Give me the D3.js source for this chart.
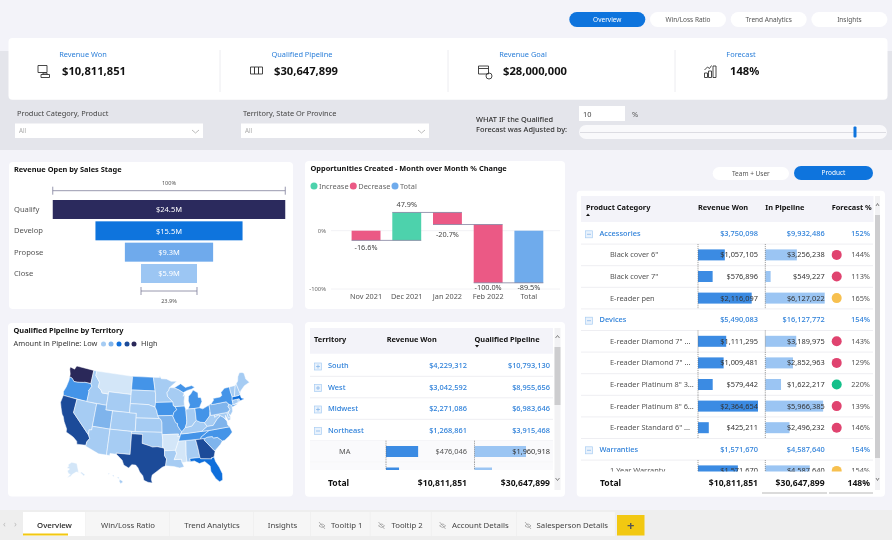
<!DOCTYPE html>
<html>
<head>
<meta charset="utf-8">
<script src="https://cdn.jsdelivr.net/npm/d3@7"></script>
<style>
  body { margin: 0; background: #f3f3f9; }
  svg { filter: blur(0.35px); }
  text { font-family: "Noto Sans", sans-serif; }
</style>
</head>
<body>
<div id="dashboard"></div>
<script>
// ---- data ----
const navTabs = ["Overview", "Win/Loss Ratio", "Trend Analytics", "Insights"];
const kpiLabels = ["Revenue Won", "Qualified Pipeline", "Revenue Goal", "Forecast"];
const kpiValues = ["$10,811,851", "$30,647,899", "$28,000,000", "148%"];

const funnelStages = ["Qualify", "Develop", "Propose", "Close"];
const funnelValues = [24.5, 15.5, 9.3, 5.9];
const funnelPercents = ["100%", "23.9%"];

const waterfallMonths = ["Nov 2021", "Dec 2021", "Jan 2022", "Feb 2022", "Total"];
const waterfallChange = [-16.6, 47.9, -20.7, -100.0, -89.5];

const territoryNames = ["South", "West", "Midwest", "Northeast", "MA", "CT"];
const territoryRevenue = [4229312, 3042592, 2271086, 1268861, 476046, 193181];
const territoryPipeline = [10793130, 8955656, 6983646, 3915468, 1960918, 666301];
const territoryIsGroup = [true, true, true, true, false, false];
const territoryOpen = [false, false, false, true, false, false];
const territoryTotals = ["Total", "$10,811,851", "$30,647,899"];

const productNames = ["Accessories", "Black cover 6\"", "Black cover 7\"", "E-reader pen", "Devices",
  "E-reader Diamond 7\" ...", "E-reader Diamond 7\" ...", "E-reader Platinum 8\" 3...",
  "E-reader Platinum 8\" 6...", "E-reader Standard 6\" ...", "Warranties", "1 Year Warranty"];
const productRevenue = [3750098, 1057105, 576896, 2116097, 5490083, 1111295, 1009481, 579442, 2364654, 425211, 1571670, 1571670];
const productPipeline = [9932486, 3256238, 549227, 6127022, 16127772, 3189975, 2852963, 1622217, 5966385, 2496232, 4587640, 4587640];
const productForecast = [152, 144, 113, 165, 154, 143, 129, 220, 139, 146, 154, 154];
const productIsGroup = [true, false, false, false, true, false, false, false, false, false, true, false];
const productTotals = ["Total", "$10,811,851", "$30,647,899", "148%"];

const bottomTabs = ["Overview", "Win/Loss Ratio", "Trend Analytics", "Insights", "Tooltip 1", "Tooltip 2", "Account Details", "Salesperson Details"];
const bottomTabHidden = [false, false, false, false, true, true, true, true];

// estimated pipeline per state, $M
const statePipeline = {
  WA: 3.9, TX: 3.1, CA: 3.0, GA: 2.8, FL: 2.1, MA: 1.96, OR: 1.3, ND: 1.0, IA: 1.2, IL: 1.3, OH: 1.25, TN: 1.3, NC: 1.2, NY: 1.0,
  MI: 0.95, UT: 0.7, MO: 0.7, SC: 0.75, PA: 0.65, VA: 0.65, WI: 0.5, NV: 0.45, ID: 0.5, WY: 0.45, AZ: 0.45, CO: 0.45, NM: 0.45,
  SD: 0.5, NE: 0.45, KS: 0.45, OK: 0.45, MN: 0.45, LA: 0.45, IN: 0.45, KY: 0.5, AL: 0.45, WV: 0.4, MD: 0.35, DE: 0.3, NJ: 0.4,
  CT: 0.35, RI: 0.3, VT: 0.4, NH: 0.4, ME: 0.45, HI: 0.4, MT: 0.2, AR: 0.15, MS: 0.2, AK: 0.1
};
const pipelineBreaks = [0.25, 0.6, 0.9, 1.5, 2.5, 3.5];
const pipelineColors = ["#d3e6f8", "#a6ccf3", "#7fb4ec", "#4494e8", "#0f6fdb", "#1c4b99", "#2a2859"];

// simplified state outlines, lon/lat
const stateOutlines = {
  WA: [[[-124.7,48.4],[-123.2,48.2],[-122.8,49],[-117,49],[-117,46.4],[-117,46],[-118.9,46],[-119.3,45.9],[-120.5,45.7],[-121.2,45.6],[-122.3,45.55],[-122.8,45.9],[-123.2,46.15],[-124,46.25],[-124.1,46.9],[-124.7,47.9]]],
  OR: [[[-124,46.25],[-123.2,46.15],[-122.8,45.9],[-122.3,45.55],[-121.2,45.6],[-120.5,45.7],[-119.3,45.9],[-118.9,46],[-117,46],[-116.9,45.9],[-116.5,45.5],[-117.2,44.4],[-117,44.2],[-117,42],[-124.2,42],[-124.5,42.8],[-124.1,44],[-123.9,45.5]]],
  CA: [[[-124.2,42],[-120,42],[-120,39],[-114.6,35],[-114.1,34.3],[-114.7,33.4],[-114.7,32.7],[-117.1,32.5],[-117.3,33.1],[-118.4,33.8],[-119.2,34.1],[-120.6,34.5],[-120.7,35.2],[-121.9,36.6],[-122.5,37.6],[-123,38],[-123.8,39.3],[-124.4,40.4]]],
  NV: [[[-120,42],[-114,42],[-114,36.2],[-114.7,36.1],[-114.6,35],[-120,39]]],
  ID: [[[-117,49],[-116,49],[-116,48],[-114.4,46.7],[-114.5,45.6],[-113.5,45.1],[-113,44.5],[-111.05,44.5],[-111.05,42],[-117,42],[-117,44.2],[-117.2,44.4],[-116.5,45.5],[-116.9,45.9],[-117,46]]],
  MT: [[[-116,49],[-104.05,49],[-104.05,45],[-111.05,45],[-111.05,44.5],[-113,44.5],[-113.5,45.1],[-114.5,45.6],[-114.4,46.7],[-116,48]]],
  WY: [[[-111.05,45],[-104.05,45],[-104.05,41],[-111.05,41]]],
  UT: [[[-114,42],[-111.05,42],[-111.05,41],[-109.05,41],[-109.05,37],[-114,37]]],
  AZ: [[[-114,37],[-109.05,37],[-109.05,31.33],[-111.1,31.33],[-114.8,32.5],[-114.7,32.7],[-114.7,33.4],[-114.1,34.3],[-114.6,35],[-114.7,36.1],[-114,36.2]]],
  CO: [[[-109.05,41],[-102.05,41],[-102.05,37],[-109.05,37]]],
  NM: [[[-109.05,37],[-103,37],[-103,32],[-106.6,32],[-106.5,31.75],[-108.2,31.78],[-108.2,31.33],[-109.05,31.33]]],
  ND: [[[-104.05,49],[-97.2,49],[-96.6,46],[-104.05,46]]],
  SD: [[[-104.05,46],[-96.6,46],[-96.45,45.3],[-96.45,43.5],[-96.6,42.5],[-97.9,42.8],[-98.5,43],[-104.05,43]]],
  NE: [[[-104.05,43],[-98.5,43],[-97.9,42.8],[-96.6,42.5],[-96.1,41.7],[-95.8,40.6],[-95.3,40],[-102.05,40],[-102.05,41],[-104.05,41]]],
  KS: [[[-102.05,40],[-95.3,40],[-94.9,39.8],[-94.6,39.1],[-94.6,37],[-102.05,37]]],
  OK: [[[-103,37],[-94.6,37],[-94.45,35.4],[-94.5,33.65],[-96,33.9],[-97.2,33.8],[-98.1,34.1],[-100,34.55],[-100,36.5],[-103,36.5]]],
  TX: [[[-106.6,32],[-103,32],[-103,36.5],[-100,36.5],[-100,34.55],[-98.1,34.1],[-97.2,33.8],[-96,33.9],[-94.5,33.65],[-94.05,33.55],[-94.05,33],[-94.05,31.9],[-93.55,31.2],[-93.85,29.7],[-94.7,29.4],[-95.9,28.6],[-97.2,27.7],[-97.4,26.8],[-97.15,25.95],[-98.2,26.1],[-99.2,26.5],[-99.5,27.5],[-100.3,28.3],[-100.8,29.2],[-101.4,29.77],[-102.4,29.8],[-103.1,29],[-104.4,29.6],[-104.9,30.6],[-106.5,31.75]]],
  MN: [[[-97.2,49],[-95.15,49],[-95.15,49.4],[-94.6,48.7],[-92.9,48.6],[-91.4,48.05],[-89.6,48],[-92,46.7],[-92.3,46.1],[-92.9,45.6],[-92.75,44.75],[-91.2,43.5],[-96.45,43.5],[-96.45,45.3],[-96.6,46]]],
  IA: [[[-96.45,43.5],[-91.2,43.5],[-91.1,42.7],[-90.65,42.5],[-90.15,41.8],[-91.1,41.2],[-91.4,40.4],[-91.7,40.6],[-95.8,40.6],[-96.1,41.7],[-96.6,42.5]]],
  MO: [[[-95.8,40.6],[-91.7,40.6],[-91.4,40.4],[-90.7,39],[-90.2,38.8],[-90.2,38.3],[-89.5,37.3],[-89.1,37],[-89.5,36.5],[-89.7,36],[-90.35,36],[-90.1,36.5],[-94.6,36.5],[-94.6,37],[-94.6,39.1],[-94.9,39.8],[-95.3,40]]],
  AR: [[[-94.6,36.5],[-90.1,36.5],[-90.35,36],[-89.7,36],[-90.2,35],[-91.15,33],[-94.05,33],[-94.05,33.55],[-94.5,33.65],[-94.45,35.4]]],
  LA: [[[-94.05,33],[-91.15,33],[-90.9,32.3],[-91.6,31],[-89.75,31],[-89.6,30.2],[-89.2,29.3],[-90.3,29.1],[-91.8,29.5],[-93.85,29.7],[-93.55,31.2],[-94.05,31.9]]],
  MS: [[[-90.2,35],[-88.2,35],[-88.45,31.9],[-88.4,30.35],[-89.6,30.2],[-89.75,31],[-91.6,31],[-90.9,32.3],[-91.15,33]]],
  AL: [[[-88.2,35],[-85.6,35],[-85.2,32.85],[-85,31],[-87.6,31],[-87.5,30.3],[-88.4,30.35],[-88.45,31.9]]],
  GA: [[[-85.6,35],[-83.1,35],[-83.35,34.7],[-81.1,32.1],[-80.85,32.05],[-81.4,30.7],[-82.2,30.55],[-82.05,30.36],[-84.86,30.7],[-85,31],[-85.2,32.85]]],
  FL: [[[-87.6,31],[-85,31],[-84.86,30.7],[-82.05,30.36],[-82.2,30.55],[-81.4,30.7],[-81.2,29.7],[-80.5,28.3],[-80,26.8],[-80.2,25.4],[-81,25.15],[-81.8,26],[-82.7,27.7],[-82.7,28.9],[-83.9,30],[-85.3,29.7],[-86.5,30.4],[-87.5,30.3]]],
  SC: [[[-83.35,34.7],[-83.1,35],[-82.3,35.2],[-81,35.15],[-80.8,34.8],[-79.7,34.8],[-78.55,33.85],[-79.2,33.2],[-80.85,32.05],[-81.1,32.1]]],
  NC: [[[-84.3,35],[-84.05,35.4],[-81.7,36.55],[-75.9,36.55],[-75.5,35.3],[-76.5,34.6],[-77.9,33.9],[-78.55,33.85],[-79.7,34.8],[-80.8,34.8],[-81,35.15],[-82.3,35.2],[-83.1,35]]],
  TN: [[[-90.2,35],[-89.7,36],[-89.5,36.5],[-88,36.5],[-83.7,36.6],[-81.7,36.55],[-84.05,35.4],[-84.3,35],[-85.6,35],[-88.2,35]]],
  KY: [[[-89.5,36.5],[-89.1,37],[-88.1,37.8],[-87,37.9],[-86.2,38],[-85.4,38.7],[-84.8,39.1],[-83.7,38.6],[-82.6,38.4],[-82,37.5],[-81.95,37.5],[-83.7,36.6],[-88,36.5]]],
  IL: [[[-90.65,42.5],[-87.8,42.5],[-87.5,41.7],[-87.5,39.3],[-87.6,38.7],[-88.1,37.8],[-89.1,37],[-89.5,37.3],[-90.2,38.3],[-90.2,38.8],[-90.7,39],[-91.4,40.4],[-91.1,41.2],[-90.15,41.8]]],
  WI: [[[-92.9,45.6],[-92.3,46.1],[-92,46.7],[-90.5,46.6],[-89.1,46.1],[-87.8,45.4],[-87.6,45.1],[-88,44.6],[-87.4,44.9],[-87.8,43.5],[-87.8,42.5],[-90.65,42.5],[-91.1,42.7],[-91.2,43.5],[-92.75,44.75]]],
  MI: [[[-86.8,41.76],[-84.8,41.72],[-83.45,41.73],[-83.1,42.2],[-82.45,43],[-82.6,43.9],[-83.4,44],[-83.3,45],[-84.7,45.75],[-85.5,45],[-86.3,44.5],[-86.5,43.5],[-86.2,42.6]],
       [[-90.5,46.6],[-89.1,46.1],[-87.8,45.4],[-86.5,45.8],[-85,46],[-84.1,46.3],[-85,46.75],[-87,46.5],[-88.4,47.4]]],
  IN: [[[-87.5,41.7],[-86.8,41.76],[-84.8,41.72],[-84.8,39.1],[-85.4,38.7],[-86.2,38],[-87,37.9],[-88.1,37.8],[-87.6,38.7],[-87.5,39.3]]],
  OH: [[[-84.8,41.72],[-83.45,41.73],[-82.5,41.4],[-80.52,42],[-80.52,40.6],[-80.8,39.7],[-81.7,39],[-82.2,38.6],[-82.6,38.4],[-83.7,38.6],[-84.8,39.1]]],
  WV: [[[-82.6,38.4],[-82.2,38.6],[-81.7,39],[-80.8,39.7],[-80.52,40.6],[-80.52,39.72],[-79.48,39.72],[-79.48,39.2],[-78.4,39.6],[-77.75,39.3],[-78.9,38.7],[-80.3,37.5],[-81.95,37.5],[-82,37.5]]],
  VA: [[[-83.7,36.6],[-81.95,37.5],[-80.3,37.5],[-78.9,38.7],[-77.75,39.3],[-77.05,38.85],[-76.3,37.9],[-76.3,37],[-75.9,36.55],[-81.7,36.55]]],
  MD: [[[-79.48,39.72],[-75.8,39.72],[-75.7,38.46],[-75.05,38.45],[-75.3,38],[-75.9,37.95],[-76.4,39.2],[-76.5,38.3],[-77.05,38.85],[-77.75,39.3],[-78.4,39.6],[-79.48,39.2]]],
  DE: [[[-75.8,39.72],[-75.4,39.8],[-75.05,38.45],[-75.7,38.46]]],
  PA: [[[-80.52,42],[-79.76,42.25],[-79.76,42],[-75.35,42],[-74.7,41.35],[-75.1,40.9],[-74.75,40.2],[-75.4,39.8],[-75.8,39.72],[-80.52,39.72],[-80.52,40.6]]],
  NJ: [[[-74.7,41.35],[-73.9,41],[-74,40.45],[-74.1,39.7],[-74.9,38.95],[-75.5,39.5],[-74.75,40.2],[-75.1,40.9]]],
  NY: [[[-79.76,42.25],[-78.9,42.9],[-79.05,43.27],[-76.8,43.3],[-76.2,43.55],[-76.3,44.2],[-75,44.95],[-73.35,45],[-73.4,44],[-73.25,42.75],[-73.5,42.05],[-73.5,41.3],[-73.65,41],[-72,41.05],[-73.9,40.6],[-73.9,41],[-74.7,41.35],[-75.35,42],[-79.76,42]]],
  CT: [[[-73.5,42.05],[-71.8,42],[-71.85,41.3],[-73.65,41],[-73.5,41.3]]],
  RI: [[[-71.8,42],[-71.38,42],[-71.2,41.5],[-71.85,41.3]]],
  MA: [[[-73.5,42.05],[-73.25,42.75],[-71.3,42.7],[-70.8,42.85],[-70.7,42],[-70,41.75],[-70,41.65],[-71.2,41.5],[-71.38,42],[-71.8,42]]],
  VT: [[[-73.35,45],[-71.5,45],[-72.45,43],[-72.45,42.73],[-73.25,42.75],[-73.4,44]]],
  NH: [[[-71.5,45],[-71.1,45.3],[-70.7,43.1],[-70.8,42.85],[-71.3,42.7],[-72.45,42.73],[-72.45,43]]],
  ME: [[[-71.1,45.3],[-70.4,45.8],[-70,46.7],[-69.2,47.45],[-68.3,47.35],[-67.8,47.05],[-67.8,45.7],[-67,44.8],[-68.8,44.4],[-70.2,43.6],[-70.7,43.1]]],
  AK: [[[-168,65.6],[-164,66.5],[-166.5,68.3],[-156.5,71.3],[-141,69.6],[-141,60.3],[-137.5,58.9],[-135,59.6],[-130,55.9],[-133,55],[-136,58],[-140,59.7],[-146,60.8],[-151.5,59.3],[-153.5,59],[-158,56.3],[-164,54.5],[-158.5,58.5],[-162,59],[-165.5,61.5],[-161,64],[-166,64.5]]],
  HI: [[[-155.9,20.25],[-155.1,19.9],[-154.8,19.5],[-155.6,18.95],[-156.05,19.7]],
       [[-156.7,20.95],[-156.3,20.95],[-156,20.7],[-156.4,20.6]],
       [[-158.25,21.55],[-157.95,21.7],[-157.7,21.3],[-158.1,21.3]],
       [[-159.75,22.1],[-159.4,22.2],[-159.3,21.95],[-159.6,21.9]]]
};

// ---- page ----
const blue = "#0e74dd", linkBlue = "#2b7fd9", ink = "#111", grey = "#555";
const font = { small: 6.5, body: 7.4 };

let svg = d3.select("#dashboard").append("svg")
  .attr("width", 892).attr("height", 540)
  .style("display", "block");

function card(x, y, w, h, fill = "#fff", r = 4) {
  return svg.append("rect").attr("x", x).attr("y", y).attr("width", w).attr("height", h)
    .attr("rx", r).attr("fill", fill);
}
function label(parent, str, x, y, size, color = ink, weight = 400, anchor = "start") {
  return parent.append("text").text(str).attr("x", x).attr("y", y)
    .attr("font-size", size).attr("fill", color).attr("font-weight", weight).attr("text-anchor", anchor);
}
function pill(str, x, y, w, h, active) {
  card(x, y, w, h, active ? blue : "#fff", h / 2);
  label(svg, str, x + w / 2, y + h / 2 + 2.3, font.small, active ? "#fff" : "#555", 400, "middle");
}
const money = d3.format("$,");

card(0, 0, 892, 540, "#f3f3f9", 0);
card(0, 51, 892, 99, "#e4e5eb", 0);

// nav pills
navTabs.forEach((t, i) => pill(t, 569.3 + i * 80.7, 12, 76, 15, i === 0));

// kpi strip
card(8.5, 38, 879, 61.7);
const kpiLabelX = [83, 302, 523, 741];
const kpiValueX = [62, 274, 503, 730];
const kpiIconX = [37, 250, 478, 704];
kpiLabels.forEach((t, i) => {
  label(svg, t, kpiLabelX[i], 57, font.body, linkBlue, 400, "middle");
  label(svg, kpiValues[i], kpiValueX[i], 75, 11.2, "#111", 700);
  if (i > 0) {
    svg.append("line").attr("x1", [0, 220, 448, 675][i]).attr("x2", [0, 220, 448, 675][i])
      .attr("y1", 50).attr("y2", 92).attr("stroke", "#ececf0").attr("stroke-width", 1);
  }
});
// small kpi icons
const iconStyle = g => g.attr("fill", "none").attr("stroke", "#333").attr("stroke-width", 0.9);
const icons = svg.append("g").call(iconStyle);
const ic = i => icons.append("g").attr("transform", `translate(${kpiIconX[i]},65)`);
ic(0).append("path").attr("d", "M1 0.5h9v7h-9z M4 9.5h8.5v3h-8.5z M6 9.5v-1.5h4v1.5");
ic(1).append("path").attr("d", "M0.5 2h4v7h-4z M4.5 2h4v7h-4z M8.5 2h4v7h-4z");
ic(2).append("path").attr("d", "M0.5 1h10v8h-10z M0.5 3.5h10 M11 11m-3 0a3 3 0 1 0 6 0a3 3 0 1 0 -6 0");
ic(3).append("path").attr("d", "M0.5 8h3v4.5h-3z M4.5 6h3v6.5h-3z M9 1h3v11.5h-3z M0.5 5l3 -3l2 1.5l2 -3");

// slicers
const slicerLabels = ["Product Category, Product", "Territory, State Or Province"];
slicerLabels.forEach((t, i) => {
  const x = i === 0 ? 15 : 241;
  label(svg, t, x + 2, 116, font.body, "#444");
  card(x, 123.5, 188, 14.5, "#fff", 0);
  label(svg, "All", x + 4, 133, 6.2, "#aaa");
  svg.append("path").attr("d", `M${x + 177} 130l3.5 3l3.5 -3`).attr("fill", "none").attr("stroke", "#aaa").attr("stroke-width", 0.8);
});
label(svg, "WHAT IF the Qualified", 476, 121.5, font.body, "#333", 500);
label(svg, "Forecast was Adjusted by:", 476, 132, font.body, "#333", 500);
card(579, 106, 46, 15, "#fff", 0);
label(svg, "10", 583, 116.5, font.body, "#444");
label(svg, "%", 632, 117, font.body, "#555");
card(579, 125, 308, 14, "#f9f9fb", 7);
svg.append("line").attr("x1", 580).attr("x2", 886).attr("y1", 132.5).attr("y2", 132.5).attr("stroke", "#dcdce2");
card(853.5, 126.5, 3, 11, blue, 1);

// ---- funnel ----
card(9, 162, 284, 147);
label(svg, "Revenue Open by Sales Stage", 14, 172, font.body, ink, 700);
let funnelX = d3.scaleLinear().domain([0, funnelValues[0]]).range([0, 232.5]);
let funnelY = d3.scaleBand().domain(funnelStages).range([200, 283]).paddingInner(0.11);
const funnelColor = d3.scaleOrdinal().domain(funnelStages).range(["#2b2a5d", "#0e74dd", "#6faaec", "#9cc6f3"]);
const funnelMid = 169;
let funnel = svg.append("g");
funnel.selectAll("rect").data(funnelStages).enter().append("rect")
  .attr("x", (d, i) => funnelMid - funnelX(funnelValues[i]) / 2)
  .attr("y", d => funnelY(d))
  .attr("width", (d, i) => funnelX(funnelValues[i]))
  .attr("height", funnelY.bandwidth())
  .attr("fill", d => funnelColor(d));
funnel.selectAll("text.val").data(funnelStages).enter().append("text").attr("class", "val")
  .text((d, i) => `$${funnelValues[i].toFixed(1)}M`)
  .attr("x", funnelMid).attr("y", d => funnelY(d) + funnelY.bandwidth() / 2 + 2.8)
  .attr("text-anchor", "middle").attr("font-size", 7.5).attr("fill", "#fff");
funnel.selectAll("text.stage").data(funnelStages).enter().append("text").attr("class", "stage")
  .text(d => d).attr("x", 14).attr("y", d => funnelY(d) + funnelY.bandwidth() / 2 + 2.5)
  .attr("font-size", 7.6).attr("fill", "#555");
function bracket(value, y, textY, str) {
  const w = funnelX(value), x0 = funnelMid - w / 2, x1 = funnelMid + w / 2;
  funnel.append("path").attr("d", `M${x0} ${y - 4}v8M${x0} ${y}H${x1}M${x1} ${y - 4}v8`)
    .attr("fill", "none").attr("stroke", "#7d7d9a").attr("stroke-width", 0.8);
  label(funnel, str, funnelMid, textY, 5.6, "#555", 400, "middle");
}
bracket(funnelValues[0], 190.7, 184.5, funnelPercents[0]);
bracket(funnelValues[3], 291, 302.5, funnelPercents[1]);

// ---- waterfall ----
card(305, 161, 260, 148);
label(svg, "Opportunities Created - Month over Month % Change", 310.5, 171, font.body, ink, 700);
const waterfallKeys = ["Increase", "Decrease", "Total"];
const waterfallColor = d3.scaleOrdinal().domain(waterfallKeys).range(["#4dd2ac", "#eb5985", "#6fabec"]);
const legendX = [314, 353.3, 395];
waterfallKeys.forEach((k, i) => {
  svg.append("circle").attr("cx", legendX[i]).attr("cy", 186).attr("r", 3.5).attr("fill", waterfallColor(k));
  label(svg, k, legendX[i] + 5, 189, font.body, "#666");
});
let wfX = d3.scaleBand().domain(waterfallMonths).range([345.7, 549.2]).paddingInner(0.29).paddingOuter(0.145);
let wfY = d3.scaleLinear().domain([-100, 0]).range([289, 230.7]);
let running = 0;
const wfSteps = waterfallMonths.map((m, i) => {
  const isTotal = m === "Total";
  const start = isTotal ? 0 : running;
  const end = isTotal ? waterfallChange[i] : running + waterfallChange[i];
  running = end;
  return { m, start, end, key: isTotal ? "Total" : (waterfallChange[i] >= 0 ? "Increase" : "Decrease"), value: waterfallChange[i] };
});
let wf = svg.append("g");
let wfYAxis = wf.append("g").attr("transform", "translate(329,0)")
  .call(d3.axisLeft(wfY).tickValues([-100, 0]).tickFormat(d => d + "%").tickSize(0));
wfYAxis.select(".domain").remove();
wfYAxis.selectAll("text").attr("font-size", 5.8).attr("fill", "#666").style("font-family", "'Noto Sans'");
wf.selectAll("line.grid").data([-100, 0]).enter().append("line").attr("class", "grid")
  .attr("x1", 331).attr("x2", 560).attr("y1", d => wfY(d)).attr("y2", d => wfY(d)).attr("stroke", "#f2f2f5");
wf.selectAll("rect").data(wfSteps).enter().append("rect")
  .attr("x", d => wfX(d.m))
  .attr("y", d => wfY(Math.max(d.start, d.end)))
  .attr("width", wfX.bandwidth())
  .attr("height", d => Math.abs(wfY(d.start) - wfY(d.end)))
  .attr("fill", d => waterfallColor(d.key));
wf.selectAll("line.link").data(wfSteps.slice(0, -1)).enter().append("line").attr("class", "link")
  .attr("x1", d => wfX(d.m)).attr("x2", (d, i) => wfX(wfSteps[i + 1].m) + wfX.bandwidth())
  .attr("y1", d => wfY(d.end)).attr("y2", d => wfY(d.end))
  .attr("stroke", "#8383a0").attr("stroke-width", 0.8);
const wfLabelY = [250, 207, 237, 289.5, 289.5];
wf.selectAll("text.val").data(wfSteps).enter().append("text").attr("class", "val")
  .text(d => d.value.toFixed(1) + "%")
  .attr("x", d => wfX(d.m) + wfX.bandwidth() / 2).attr("y", (d, i) => wfLabelY[i])
  .attr("text-anchor", "middle").attr("font-size", 7.3).attr("fill", "#444");
let wfXAxis = wf.append("g").attr("transform", "translate(0,292)")
  .call(d3.axisBottom(wfX).tickSize(0).tickPadding(2));
wfXAxis.select(".domain").remove();
wfXAxis.selectAll("text").attr("font-size", 7.3).attr("fill", "#555").style("font-family", "'Noto Sans'");

// ---- map ----
card(8, 323, 285, 173.5);
label(svg, "Qualified Pipeline by Territory", 13.5, 333, font.body, ink, 700);
label(svg, "Amount in Pipeline: Low", 13.5, 346, font.body, "#333");
const legendLevels = [1, 2, 4, 5, 6];
legendLevels.forEach((l, i) => {
  svg.append("circle").attr("cx", [103.5, 111, 119, 127, 134][i]).attr("cy", 344).attr("r", 2.5).attr("fill", pipelineColors[l]);
});
label(svg, "High", 141, 346, font.body, "#333");

function stateFeature(code) {
  const rings = stateOutlines[code].map(r => {
    let ring = r.concat([r[0]]);
    if (d3.geoArea({ type: "Polygon", coordinates: [ring] }) > 2 * Math.PI) ring = ring.slice().reverse();
    return [ring];
  });
  return { type: "Feature", id: code, geometry: { type: "MultiPolygon", coordinates: rings } };
}
const stateCodes = Object.keys(stateOutlines);
const lower48 = stateCodes.filter(c => c !== "AK" && c !== "HI").map(stateFeature);
const akFeature = stateFeature("AK"), hiFeature = stateFeature("HI");
const mainProj = d3.geoAlbers().fitExtent([[60, 366], [250, 483]], { type: "FeatureCollection", features: lower48 });
const akProj = d3.geoConicEqualArea().rotate([154, 0]).parallels([55, 65]).fitExtent([[67, 458], [85, 482]], akFeature);
const hiProj = d3.geoConicEqualArea().rotate([157, 0]).parallels([8, 18]).fitExtent([[108, 472], [123, 485]], hiFeature);
const pipelineColor = d3.scaleThreshold().domain(pipelineBreaks).range(pipelineColors);
let map = svg.append("g");
function drawStates(features, proj) {
  map.append("g").selectAll("path").data(features).enter().append("path")
    .attr("d", d3.geoPath(proj))
    .attr("fill", d => pipelineColor(statePipeline[d.id]))
    .attr("stroke", "#fff").attr("stroke-width", 0.5);
}
drawStates(lower48, mainProj);
drawStates([akFeature], akProj);
drawStates([hiFeature], hiProj);

// ---- tables ----
function expander(parent, x, y, open) {
  const g = parent.append("g");
  g.append("rect").attr("x", x - 3.5).attr("y", y - 2.5).attr("width", 7).attr("height", 7)
    .attr("fill", "#e9f2fc").attr("stroke", "#a8cdf3").attr("stroke-width", 0.7);
  g.append("path").attr("d", open ? `M${x - 2} ${y + 1}h4` : `M${x - 2} ${y + 1}h4M${x} ${y - 1}v4`)
    .attr("stroke", "#7fb3ea").attr("stroke-width", 0.7);
}
function scrollbar(x, top, bottom, thumbTop, thumbBottom, w) {
  card(x, top, w, bottom - top, "#f2f2f4", 0);
  card(x, thumbTop, w, thumbBottom - thumbTop, "#cdcdcf", 0);
  svg.append("path").attr("d", `M${x + 1} ${top + 10}l${w / 2 - 1} -2.5l${w / 2 - 1} 2.5`).attr("fill", "none").attr("stroke", "#555").attr("stroke-width", 0.7);
  svg.append("path").attr("d", `M${x + 1} ${bottom - 12}l${w / 2 - 1} 2.5l${w / 2 - 1} -2.5`).attr("fill", "none").attr("stroke", "#555").attr("stroke-width", 0.7);
}
function caret(x, y, up) {
  svg.append("path").attr("d", up ? `M${x - 2} ${y + 1.5}l2 -2.5l2 2.5z` : `M${x - 2} ${y - 1}l2 2.5l2 -2.5z`).attr("fill", "#111");
}
const revenueBar = "#3b8be3", pipelineBar = "#9bc5f3";

// territory
card(305, 322, 260, 174.7);
card(310, 328, 243, 25.7, "#f3f3f9", 0);
label(svg, "Territory", 314, 341.5, font.body, ink, 700);
label(svg, "Revenue Won", 386.7, 341.5, font.body, ink, 700);
label(svg, "Qualified Pipeline", 474.5, 341.5, font.body, ink, 700);
caret(477, 346, false);
scrollbar(554.5, 328, 490, 347, 405, 6);
svg.append("defs").append("clipPath").attr("id", "territoryClip")
  .append("rect").attr("x", 305).attr("y", 354).attr("width", 249).attr("height", 116);
let tY = d3.scaleLinear().domain([0, 1]).range([365.5, 387]);
let tRev = d3.scaleLinear().domain([0, 1200000]).range([386, 467]);
let tPipe = d3.scaleLinear().domain([0, 2875000]).range([474.5, 550]);
let tBody = svg.append("g").attr("clip-path", "url(#territoryClip)");
territoryNames.forEach((name, i) => {
  const y = tY(i), group = territoryIsGroup[i];
  if (!group) {
    tBody.append("rect").attr("x", 310).attr("y", y - 10.8).attr("width", 243).attr("height", 21.5).attr("fill", "#fafafc");
    tBody.append("rect").attr("x", tRev(0)).attr("y", y - 5.5).attr("width", tRev(territoryRevenue[i]) - tRev(0)).attr("height", 11).attr("fill", revenueBar);
    tBody.append("rect").attr("x", tPipe(0)).attr("y", y - 5.5).attr("width", tPipe(territoryPipeline[i]) - tPipe(0)).attr("height", 11).attr("fill", pipelineBar);
    [tRev(0), tPipe(0)].forEach(x => tBody.append("line").attr("x1", x).attr("x2", x).attr("y1", y - 10.8).attr("y2", y + 10.8)
      .attr("stroke", "#666").attr("stroke-dasharray", "1,1").attr("stroke-width", 0.7));
  } else {
    expander(tBody, 318, y, territoryOpen[i]);
  }
  const c = group ? linkBlue : "#555", w = group ? 500 : 400;
  label(tBody, name, group ? 328 : 339, y + 2.5, font.body, c, w);
  label(tBody, money(territoryRevenue[i]), 467, y + 2.5, font.body, c, w, "end");
  label(tBody, money(territoryPipeline[i]), 550, y + 2.5, font.body, group ? c : "#333", w, "end");
  tBody.append("line").attr("x1", 310).attr("x2", 553).attr("y1", y + 10.8).attr("y2", y + 10.8).attr("stroke", "#eeeef2");
});
label(svg, territoryTotals[0], 328, 486, 8.6, ink, 700);
label(svg, territoryTotals[1], 467, 486, 8.6, ink, 700, "end");
label(svg, territoryTotals[2], 550, 486, 8.6, ink, 700, "end");

// product
pill("Team + User", 712.7, 167, 76.3, 13, false);
pill("Product", 794, 166, 79, 14, true);
card(576.7, 190.7, 308.3, 306);
card(581, 196, 292.5, 26, "#f3f3f9", 0);
const productHeads = ["Product Category", "Revenue Won", "In Pipeline", "Forecast %"];
const productHeadX = [586, 698, 765.3, 831.7];
productHeads.forEach((h, i) => label(svg, h, productHeadX[i], 209.5, font.body, ink, 700));
caret(588, 214.5, true);
scrollbar(875, 196, 490, 215, 458, 5);
svg.append("defs").append("clipPath").attr("id", "productClip")
  .append("rect").attr("x", 577).attr("y", 222).attr("width", 297).attr("height", 249.5);
let pY = d3.scaleLinear().domain([0, 1]).range([233.3, 254.9]);
let pRev = d3.scaleLinear().domain([0, 2364654]).range([698, 758]);
let pPipe = d3.scaleLinear().domain([0, 6127022]).range([765.3, 824.7]);
let statusColor = d3.scaleThreshold().domain([150, 200]).range(["#e0436f", "#f7c04f", "#14c08a"]);
let pBody = svg.append("g").attr("clip-path", "url(#productClip)");
productNames.forEach((name, i) => {
  const y = pY(i), group = productIsGroup[i];
  if (!group) {
    pBody.append("rect").attr("x", pRev(0)).attr("y", y - 5.5).attr("width", pRev(productRevenue[i]) - pRev(0)).attr("height", 11).attr("fill", revenueBar);
    pBody.append("rect").attr("x", pPipe(0)).attr("y", y - 5.5).attr("width", pPipe(productPipeline[i]) - pPipe(0)).attr("height", 11).attr("fill", pipelineBar);
    [pRev(0), pPipe(0)].forEach(x => pBody.append("line").attr("x1", x).attr("x2", x).attr("y1", y - 10.8).attr("y2", y + 10.8)
      .attr("stroke", "#666").attr("stroke-dasharray", "1,1").attr("stroke-width", 0.7));
    pBody.append("circle").attr("cx", 836.7).attr("cy", y).attr("r", 5).attr("fill", statusColor(productForecast[i]));
  } else {
    expander(pBody, 589, y, true);
  }
  const c = group ? linkBlue : "#555", w = group ? 500 : 400;
  label(pBody, name, group ? 599.5 : 610, y + 2.5, font.body, c, w);
  label(pBody, money(productRevenue[i]), 758, y + 2.5, font.body, group ? c : "#333", w, "end");
  label(pBody, money(productPipeline[i]), 824.7, y + 2.5, font.body, group ? c : "#333", w, "end");
  label(pBody, productForecast[i] + "%", 870, y + 2.5, font.body, c, w, "end");
  pBody.append("line").attr("x1", 581).attr("x2", 873).attr("y1", y + 10.8).attr("y2", y + 10.8).attr("stroke", "#eeeef2");
});
label(svg, productTotals[0], 600, 486, 8.6, ink, 700);
label(svg, productTotals[1], 758, 486, 8.6, ink, 700, "end");
label(svg, productTotals[2], 824.7, 486, 8.6, ink, 700, "end");
label(svg, productTotals[3], 870, 486, 8.6, ink, 700, "end");
[[762, 827], [829, 873]].forEach(s => svg.append("line").attr("x1", s[0]).attr("x2", s[1]).attr("y1", 493).attr("y2", 493).attr("stroke", "#999").attr("stroke-width", 0.7));

// ---- bottom tabs ----
card(0, 510, 892, 30, "#eeeeee", 0);
const tabEdges = [23, 86, 170, 254, 311, 370.5, 431.6, 517, 615.6];
bottomTabs.forEach((t, i) => {
  const x0 = tabEdges[i], x1 = tabEdges[i + 1];
  card(x0, 512, x1 - x0 - 0.7, 24, i === 0 ? "#fff" : "#f6f6f6", 0);
  const mid = (x0 + x1) / 2 + (bottomTabHidden[i] ? 6 : 0);
  label(svg, t, mid, 527.5, 7.8, i === 0 ? "#222" : "#444", i === 0 ? 500 : 400, "middle");
  if (bottomTabHidden[i]) {
    const ix = x0 + 8;
    svg.append("path").attr("d", `M${ix} 526q3 -4 6 0q-3 3 -6 0M${ix} 522l6 7`)
      .attr("fill", "none").attr("stroke", "#888").attr("stroke-width", 0.6);
  }
});
card(23, 533.5, 45, 2, "#f2c811", 0);
card(617, 515, 27.5, 20.5, "#f2c811", 0);
label(svg, "+", 630.7, 529.5, 13, "#555", 700, "middle");
label(svg, "‹", 3, 527, 9, "#bbb");
label(svg, "›", 14, 527, 9, "#bbb");
</script>
</body>
</html>
